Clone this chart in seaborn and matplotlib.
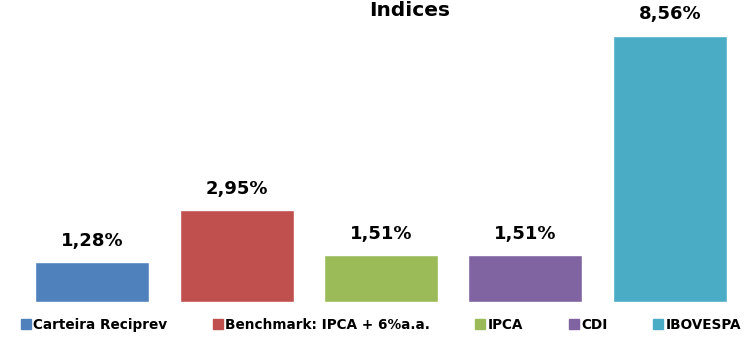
import matplotlib
matplotlib.use("Agg")
import matplotlib.pyplot as plt
from matplotlib.lines import Line2D
import seaborn as sns
import pandas as pd

categories = ["Carteira Reciprev", "Benchmark: IPCA + 6%a.a.", "IPCA", "CDI", "IBOVESPA"]
values = [1.28, 2.95, 1.51, 1.51, 8.56]
value_labels = ["1,28%", "2,95%", "1,51%", "1,51%", "8,56%"]
colors = ["#4F81BD", "#C0504D", "#9BBB59", "#8064A2", "#4BACC6"]
title = "Indices"

sns.set_theme(style="white")
plt.rcParams["font.family"] = ["DejaVu Sans"]
plt.rcParams["text.color"] = "black"

df = pd.DataFrame({"categoria": categories, "valor": values})

fig = plt.figure(figsize=(7.54, 3.37), dpi=100)
ax = fig.add_axes([20 / 754, (337 - 302) / 337, 722 / 754, 292 / 337])

sns.barplot(data=df, x="categoria", y="valor", hue="categoria",
            palette=colors, order=categories, hue_order=categories,
            width=0.79, saturation=1, legend=False, ax=ax)

ax.set_ylim(0, 292 / 31.1)
ax.set_xlim(-0.5, len(categories) - 0.5)
ax.set_axis_off()

for i, (v, lab) in enumerate(zip(values, value_labels)):
    ax.annotate(lab, (i, v), xytext=(0, 15.5), textcoords="offset points",
                ha="center", va="center", fontsize=13, fontweight="bold",
                color="black")

fig.text(410 / 754, 1 - 15.5 / 337, title, ha="center", va="baseline",
         fontsize=14.5, fontweight="bold", color="black")

handles = [Line2D([0], [0], marker="s", linestyle="none", markersize=6.5,
                  markerfacecolor=c, markeredgecolor=c) for c in colors]
fig.legend(handles, categories, loc="center left", ncol=5,
           bbox_to_anchor=(21 / 754, 1 - 325 / 337), frameon=False,
           prop={"weight": "bold", "size": 9.8}, handlelength=0.7,
           handletextpad=0.2, columnspacing=3.35, borderaxespad=0,
           borderpad=0, labelcolor="black")

fig.savefig("out.png", dpi=100)
